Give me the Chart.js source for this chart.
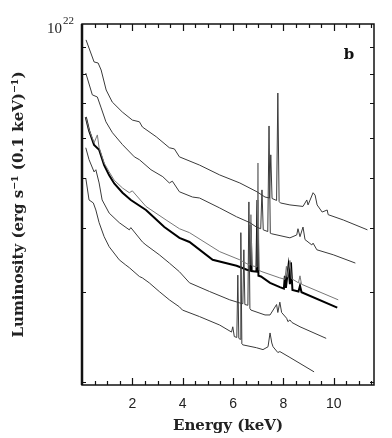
<!DOCTYPE html>
<html>
<head>
<meta charset="utf-8">
<script src="https://cdn.jsdelivr.net/npm/chart.js@4.4.0/dist/chart.umd.min.js"></script>
<style>
  html, body { margin: 0; padding: 0; background: #fff; }
</style>
</head>
<body>
<canvas id="myChart" width="392" height="438"></canvas>
<script>
// energies in keV, luminosity in units of 1e21 erg/s/(0.1 keV)
var e1 = [0.16, 0.48, 0.64, 0.76, 0.96, 1.20, 1.60, 2.00, 2.28, 2.40, 2.95, 3.47, 3.67, 3.87, 4.67, 5.47, 6.27, 6.95, 7.27, 7.45, 7.50, 7.55, 7.73, 7.78, 7.83, 7.88, 8.26, 8.78, 8.93, 8.98, 9.18, 9.26, 9.34, 9.54, 9.74, 9.78, 10.38, 11.34];
var l1 = [9.31, 8.43, 8.39, 8.13, 7.43, 7.04, 6.73, 6.49, 6.44, 6.29, 6.02, 5.73, 5.70, 5.50, 5.30, 5.07, 4.89, 4.70, 4.59, 4.57, 5.55, 4.56, 4.52, 7.33, 4.50, 4.47, 4.43, 4.40, 4.53, 4.43, 4.68, 4.63, 4.43, 4.29, 4.33, 4.24, 4.14, 3.96];

var e2 = [0.15, 0.41, 0.61, 0.75, 0.95, 1.21, 1.61, 2.08, 2.28, 2.74, 3.21, 3.47, 3.59, 3.87, 4.39, 4.67, 5.47, 6.14, 6.67, 6.93, 7.10, 7.15, 7.20, 7.38, 7.43, 7.48, 7.54, 8.26, 8.53, 8.58, 8.66, 8.78, 8.86, 9.13, 9.18, 9.33, 9.98, 10.86];
var l2 = [8.02, 7.27, 7.20, 6.88, 6.44, 6.13, 5.81, 5.50, 5.43, 5.19, 5.03, 4.89, 4.93, 4.70, 4.59, 4.57, 4.37, 4.20, 4.09, 4.01, 3.98, 4.74, 3.96, 3.93, 6.32, 3.90, 3.89, 3.82, 3.87, 3.98, 3.84, 4.01, 3.79, 3.70, 3.73, 3.62, 3.54, 3.41];

var e3 = [0.15, 0.28, 0.48, 0.61, 0.68, 0.88, 1.08, 1.28, 1.61, 1.88, 2.00, 2.54, 3.34, 3.87, 4.27, 5.47, 6.27, 6.55, 6.67, 6.71, 6.75, 6.95, 6.99, 7.03, 7.15, 7.86, 8.06, 8.12, 8.17, 8.26, 8.32, 8.60, 8.66, 8.72, 10.18];
var l3 = [6.58, 6.21, 5.86, 6.07, 5.73, 5.35, 5.14, 4.95, 4.78, 4.68, 4.72, 4.40, 4.14, 3.98, 3.91, 3.59, 3.46, 3.40, 3.38, 4.24, 3.37, 3.35, 5.35, 3.30, 3.28, 3.19, 3.17, 3.36, 3.20, 3.45, 3.18, 3.12, 3.22, 3.10, 2.89];

var e4 = [0.15, 0.28, 0.48, 0.68, 0.88, 1.08, 1.28, 1.61, 1.94, 2.54, 2.67, 3.27, 3.87, 4.27, 5.19, 6.14, 6.55, 6.66, 6.70, 6.74, 6.93, 6.97, 7.01, 7.11, 7.47, 7.86, 8.02, 8.06, 8.10, 8.20, 8.26, 8.30, 8.36, 8.60, 8.66, 8.72, 10.14];
var l4 = [6.58, 6.19, 5.80, 5.68, 5.30, 5.06, 4.88, 4.68, 4.53, 4.33, 4.27, 4.01, 3.82, 3.75, 3.46, 3.37, 3.31, 3.30, 4.05, 3.29, 3.28, 4.53, 3.22, 3.21, 3.12, 3.06, 3.04, 3.22, 3.05, 3.36, 3.10, 3.42, 3.02, 3.00, 3.08, 2.99, 2.79];

var e5 = [0.15, 0.28, 0.48, 0.55, 0.68, 0.80, 1.08, 1.48, 1.88, 1.94, 2.40, 2.54, 3.07, 3.47, 3.87, 4.27, 5.07, 5.87, 6.27, 6.39, 6.43, 6.47, 6.59, 6.63, 6.67, 6.71, 7.27, 7.47, 7.73, 7.78, 7.86, 7.93, 8.13, 8.18, 8.26, 8.34, 8.66, 9.70];
var l5 = [5.73, 5.43, 5.14, 5.19, 4.89, 4.53, 4.27, 4.09, 3.96, 4.00, 3.75, 3.70, 3.54, 3.41, 3.28, 3.12, 3.00, 2.89, 2.85, 2.84, 3.62, 2.83, 2.82, 4.49, 2.78, 2.76, 2.70, 2.70, 2.83, 2.73, 2.86, 2.73, 2.66, 2.62, 2.64, 2.61, 2.56, 2.43];

var e6 = [0.15, 0.28, 0.45, 0.55, 0.68, 0.88, 1.08, 1.48, 1.74, 1.88, 2.28, 2.40, 2.67, 3.07, 3.47, 3.87, 3.99, 4.67, 5.47, 5.94, 5.99, 6.05, 6.15, 6.19, 6.23, 6.28, 6.31, 6.35, 6.39, 6.93, 7.19, 7.39, 7.47, 7.54, 7.59, 7.78, 7.86, 8.26, 9.22];
var l6 = [5.00, 4.53, 4.47, 4.33, 4.09, 3.84, 3.67, 3.46, 3.38, 3.34, 3.21, 3.19, 3.12, 3.00, 2.89, 2.80, 2.76, 2.68, 2.58, 2.50, 2.56, 2.45, 2.44, 3.23, 2.43, 2.42, 3.91, 2.37, 2.36, 2.33, 2.31, 2.34, 2.49, 2.38, 2.34, 2.28, 2.29, 2.23, 2.09];

var xTicks = [0.5, 1, 1.5, 2, 2.5, 3, 3.5, 4, 4.5, 5, 5.5, 6, 6.5, 7, 7.5, 8, 8.5, 9, 9.5, 10, 10.5, 11, 11.5];
var xLabels = [2, 4, 6, 8, 10];
var yTicks = [2, 3, 4, 5, 6, 7, 8, 9, 10];

function pts(e, l) {
  return e.map(function (v, i) { return { x: v, y: l[i] }; });
}

function line(e, l, color, width) {
  return {
    data: pts(e, l),
    borderColor: color,
    borderWidth: width,
    pointRadius: 0,
    tension: 0,
    fill: false
  };
}

const frame = {
  id: 'frame',
  afterDraw(chart) {
    const ctx = chart.ctx;
    const a = chart.chartArea;
    const x = chart.scales.x, y = chart.scales.y;
    ctx.save();
    ctx.strokeStyle = '#111';
    ctx.lineWidth = 1.5;
    ctx.strokeRect(a.left, a.top, a.right - a.left, a.bottom - a.top);
    ctx.lineWidth = 2.5;
    ctx.beginPath();
    ctx.moveTo(a.left, a.top);
    ctx.lineTo(a.left, a.bottom);
    ctx.stroke();

    ctx.lineWidth = 1.2;
    x.ticks.forEach(function (t) {
      const px = Math.round(x.getPixelForValue(t.value)) + 0.5;
      const len = t.value % 2 === 0 ? 7 : 4;
      ctx.beginPath();
      ctx.moveTo(px, a.bottom); ctx.lineTo(px, a.bottom - len);
      ctx.moveTo(px, a.top); ctx.lineTo(px, a.top + len);
      ctx.stroke();
    });
    y.ticks.forEach(function (t) {
      if (t.value >= 10) return;
      const py = Math.round(y.getPixelForValue(t.value)) + 0.5;
      ctx.beginPath();
      ctx.moveTo(a.left, py); ctx.lineTo(a.left + 4, py);
      ctx.moveTo(a.right, py); ctx.lineTo(a.right - 4, py);
      ctx.stroke();
    });

    // top decade label 10^22
    ctx.fillStyle = '#222';
    ctx.textBaseline = 'middle';
    ctx.textAlign = 'right';
    const ty = y.getPixelForValue(10);
    ctx.font = '15px "Liberation Serif"';
    ctx.fillText('10', a.left - 20, ty + 5);
    ctx.font = '11px "Liberation Serif"';
    ctx.fillText('22', a.left - 8, ty - 3);

    ctx.fillStyle = '#111';
    ctx.font = 'bold 15px "DejaVu Serif"';
    ctx.textAlign = 'center';
    ctx.fillText('b', a.right - 25, a.top + 31);
    ctx.restore();
  }
};

const ctx = document.getElementById('myChart').getContext('2d');
const chart = new Chart(ctx, {
  type: 'line',
  data: {
    datasets: [
      line(e1, l1, '#3a3a3a', 1),
      line(e2, l2, '#3a3a3a', 1),
      line(e3, l3, '#777777', 1),
      line(e5, l5, '#3a3a3a', 1),
      line(e6, l6, '#3a3a3a', 1),
      line(e4, l4, '#000000', 2)
    ]
  },
  options: {
    responsive: false,
    animation: false,
    layout: { padding: { top: 24, right: 18, left: 0, bottom: 0 } },
    plugins: {
      legend: { display: false },
      tooltip: { enabled: false }
    },
    scales: {
      x: {
        type: 'linear',
        min: 0,
        max: 11.6,
        afterBuildTicks: function (s) { s.ticks = xTicks.map(function (v) { return { value: v }; }); },
        afterFit: function (s) { s.height = 53; },
        grid: { display: false, drawTicks: false },
        border: { display: false },
        ticks: {
          autoSkip: false,
          maxRotation: 0,
          padding: 11,
          color: '#222',
          font: { family: '"Liberation Sans", Arial', size: 14 },
          callback: function (v) { return xLabels.indexOf(v) >= 0 ? String(v) : ''; }
        },
        title: {
          display: true,
          text: 'Energy (keV)',
          color: '#222',
          font: { family: '"DejaVu Serif"', size: 15, weight: 'bold' },
          padding: { bottom: 3, top: 0 }
        }
      },
      y: {
        type: 'logarithmic',
        min: 1.97,
        max: 10,
        afterBuildTicks: function (s) { s.ticks = yTicks.map(function (v) { return { value: v }; }); },
        afterFit: function (s) { s.width = 82; },
        grid: { display: false, drawTicks: false },
        border: { display: false },
        ticks: {
          autoSkip: false,
          padding: 7,
          callback: function () { return ''; }
        },
        title: {
          display: true,
          text: 'Luminosity (erg s⁻¹ (0.1 keV)⁻¹)',
          color: '#222',
          font: { family: '"DejaVu Serif"', size: 15, weight: 'bold' },
          padding: { top: 10, bottom: 0 }
        }
      }
    }
  },
  plugins: [frame]
});
</script>
</body>
</html>
